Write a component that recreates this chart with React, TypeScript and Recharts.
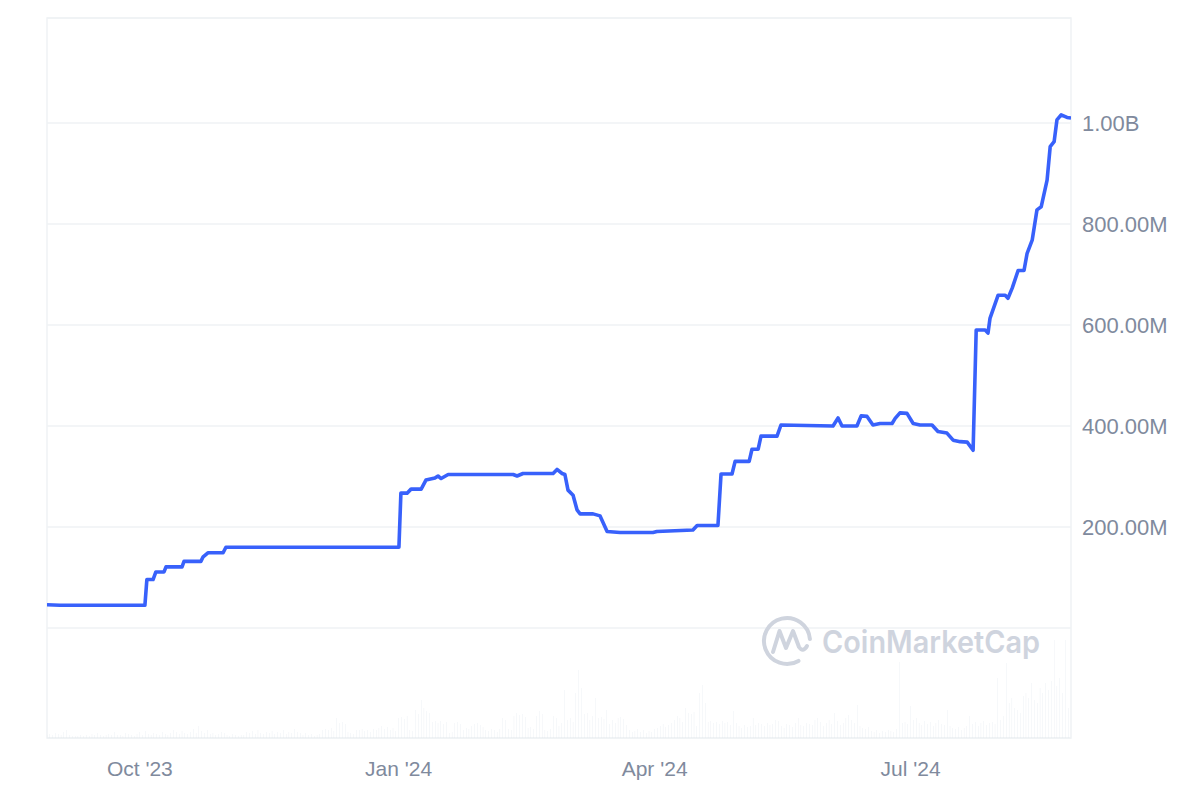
import {
  ComposedChart,
  Line,
  Bar,
  XAxis,
  YAxis,
  CartesianGrid,
  ReferenceArea,
} from "recharts";

// Market cap line (USD millions), sampled at step breakpoints.
// x is days since 2023-08-29.
const CAP_DAYS = [
  0, 4.6, 34.8, 35.5, 37.7, 38.7, 41.6, 42.3, 48.0, 48.7,
  54.7, 55.5, 57.2, 62.6, 63.6, 89.9, 125.1, 125.8, 128.0, 129.4,
  133.0, 134.7, 137.9, 139.0, 140.1, 142.6, 165.7, 167.1, 169.2, 179.9,
  181.3, 183.1, 184.1, 185.2, 187.0, 188.4, 189.5, 194.1, 196.6, 199.1,
  203.7, 215.4, 216.8, 229.6, 231.1, 238.5, 239.6, 243.5, 244.6, 249.6,
  250.6, 252.8, 253.8, 259.5, 260.9, 279.4, 281.2, 282.6, 287.9, 289.4,
  291.5, 293.6, 296.1, 300.4, 301.5, 303.2, 305.7, 307.9, 310.3, 314.6,
  316.7, 319.9, 322.1, 324.6, 327.1, 329.2, 330.3, 333.5, 334.5, 335.2,
  338.1, 340.6, 341.6, 343.1, 345.2, 347.3, 348.4, 350.2, 351.9, 353.4,
  355.5, 356.6, 358.0, 359.0, 360.5, 362.6, 364.0,
];
const CAP_M = [
  46, 45, 45, 96, 96, 111, 111, 121, 121, 132,
  132, 141, 149, 149, 160, 160, 160, 267, 267, 275,
  275, 293, 297, 301, 296, 304, 304, 301, 306, 306,
  314, 306, 304, 273, 263, 234, 226, 226, 222, 191,
  189, 189, 191, 194, 203, 203, 305, 305, 330, 330,
  354, 354, 380, 380, 402, 400, 416, 400, 400, 420,
  419, 402, 405, 405, 415, 426, 425, 405, 402, 402,
  389, 386, 372, 369, 368, 352, 590, 590, 584, 613,
  659, 659, 653, 673, 708, 708, 742, 768, 828, 834,
  887, 953, 963, 1006, 1016, 1011, 1010,
];

// Daily volume, one value per day from 2023-08-29 (relative units).
const VOLUME = [
  // Aug - Nov '23
  3, 4, 3, 5, 4, 3, 6, 8, 3, 2, 2, 2, 3, 2, 3, 2, 4, 3, 5, 3,
  2, 3, 4, 3, 6, 3, 3, 2, 5, 4, 3, 2, 4, 6, 3, 7, 4, 3, 5, 4,
  3, 6, 4, 3, 5, 8, 6, 4, 7, 5, 4, 6, 9, 5, 12, 7, 5, 8, 4, 5,
  3, 4, 6, 5, 3, 2, 4, 3, 2, 3, 3, 6, 5, 7, 4, 8, 5, 4, 6, 5,
  7, 4, 6, 5, 8, 4, 6, 5, 9, 6, 5,
  // Nov '23 - Feb '24
  3, 5, 3, 4, 2, 3, 4, 8, 9, 8, 10, 7, 20, 15, 16, 14, 6, 5, 4, 8,
  8, 9, 7, 8, 6, 9, 8, 10, 12, 9, 11, 8, 10, 7, 20, 21, 19, 22, 8, 7,
  28, 24, 38, 30, 27, 25, 16, 17, 15, 17, 14, 16, 5, 6, 15, 16, 14, 8, 10, 9,
  12, 14, 15, 13, 11, 8, 7, 9, 8, 6, 9, 20, 18, 9, 8, 22, 25, 23, 24, 21,
  10, 11, 9, 22, 27, 24, 8, 7, 9, 22, 20,
  // Feb - May '24
  12, 15, 48, 18, 20, 16, 45, 68, 50, 24, 25, 18, 22, 40, 20, 21, 19, 28, 14, 18,
  15, 20, 21, 19, 13, 8, 6, 7, 9, 6, 8, 5, 7, 6, 9, 10, 12, 14, 11, 13,
  15, 18, 22, 20, 16, 30, 25, 24, 26, 12, 45, 53, 35, 16, 17, 15, 16, 14, 17, 15,
  16, 13, 27, 15, 12, 10, 13, 11, 12, 20, 13, 15, 14, 12, 15, 13, 14, 18, 17, 12,
  10, 14, 13, 11, 15, 20, 13, 12, 15, 14, 13,
  // May - Aug '24
  18, 20, 16, 12, 15, 18, 14, 25, 17, 13, 15, 20, 23, 18, 15, 33, 12, 10, 9, 11,
  7, 6, 8, 5, 7, 6, 8, 7, 6, 9, 76, 15, 16, 14, 32, 18, 20, 15, 13, 17,
  14, 16, 12, 15, 18, 14, 13, 28, 12, 10, 9, 11, 8, 10, 12, 22, 14, 16, 12, 15,
  17, 13, 15, 16, 14, 60, 18, 22, 75, 35, 40, 30, 28, 25, 42, 45, 40, 55, 38, 35,
  50, 45, 55, 48, 57, 98, 52, 60, 45, 98, 30,
];

const MONTH_TICKS = [33, 125, 216, 307];
const MONTH_LABELS = ["Oct '23", "Jan '24", "Apr '24", "Jul '24"];
const CAP_TICKS = [0, 200, 400, 600, 800, 1000];

const LINE = "#3861fb";
const GRID = "#eff2f5";
const INK = "#808a9d";
const VOL = "#dce1e9";
const FONT = "'Liberation Sans', Arial, Helvetica, sans-serif";

const capData = CAP_DAYS.map((day, i) => ({ day, cap: CAP_M[i] }));
const volData = VOLUME.map((vol, day) => ({ day, vol }));

const fmtCap = (v: number) => {
  if (v <= 0) return "";
  if (v >= 1000) return `${(v / 1000).toFixed(2)}B`;
  return `${v.toFixed(2)}M`;
};

function Watermark() {
  return (
    <svg
      width={1200}
      height={800}
      style={{ position: "absolute", left: 0, top: 0, pointerEvents: "none" }}
    >
      <g fill="none" stroke="#cfd4de" strokeWidth={4} strokeLinecap="round" strokeLinejoin="round">
        <path d="M 809.9 639 A 23 23 0 1 0 798.5 660.9" />
        <path d="M 773 652 L 779.5 631 L 786 648 L 793 631 L 799 647 Q 803 653 807 646" />
      </g>
      <text
        x={822}
        y={653}
        fill="#cfd4de"
        fontFamily="Inter, 'Noto Sans', sans-serif"
        fontWeight={600}
        fontSize={31}
        textLength={218}
        lengthAdjust="spacingAndGlyphs"
      >
        CoinMarketCap
      </text>
    </svg>
  );
}

export default function App() {
  return (
    <div style={{ position: "absolute", left: 0, top: 0, width: 1200, height: 800, background: "#fff" }}>
      <ComposedChart
        width={1200}
        height={800}
        data={volData}
        margin={{ top: 18, right: 0, bottom: 0, left: 47 }}
      >
        <CartesianGrid yAxisId="cap" stroke={GRID} strokeWidth={1.5} vertical={false} />
        <XAxis
          dataKey="day"
          type="number"
          domain={[0, 364]}
          allowDataOverflow
          ticks={MONTH_TICKS}
          tickFormatter={(d: number) => MONTH_LABELS[MONTH_TICKS.indexOf(d)] ?? ""}
          tick={{ fill: INK, fontSize: 21, fontFamily: FONT }}
          axisLine={false}
          tickLine={false}
          tickMargin={17}
          height={62}
        />
        <YAxis
          yAxisId="cap"
          orientation="right"
          type="number"
          domain={[-217.8, 1207.9]}
          allowDataOverflow
          ticks={CAP_TICKS}
          tickFormatter={fmtCap}
          tick={{ fill: INK, fontSize: 22, fontFamily: FONT, textAnchor: "start" }}
          axisLine={false}
          tickLine={false}
          tickMargin={5}
          width={129}
        />
        <YAxis yAxisId="vol" hide type="number" domain={[0, 720]} allowDataOverflow />
        <ReferenceArea
          yAxisId="cap"
          x1={0}
          x2={364}
          y1={-217.8}
          y2={1207.9}
          fill="none"
          stroke={GRID}
          strokeWidth={1.5}
          ifOverflow="visible"
        />
        <Bar yAxisId="vol" dataKey="vol" fill={VOL} barSize={2.4} isAnimationActive={false} />
        <Line
          yAxisId="cap"
          data={capData}
          dataKey="cap"
          type="linear"
          stroke={LINE}
          strokeWidth={3.6}
          strokeLinejoin="round"
          dot={false}
          activeDot={false}
          isAnimationActive={false}
        />
      </ComposedChart>
      <Watermark />
    </div>
  );
}
